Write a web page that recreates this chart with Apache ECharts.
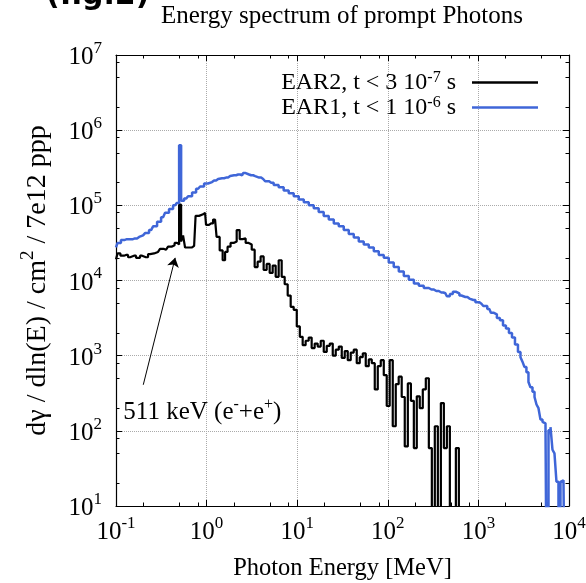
<!DOCTYPE html>
<html>
<head>
<meta charset="UTF-8">
<title>Energy spectrum of prompt Photons</title>
<script src="https://cdn.jsdelivr.net/npm/echarts@6/dist/echarts.min.js"></script>
<style>html,body{margin:0;padding:0;background:#fff;}</style>
</head>
<body>
<div id="chart" style="width:586px; height:583px;"></div>
<script>
// EAR2, t < 3e-7 s (black histogram), energies in MeV
var ear2Energy = [0.100, 0.108, 0.116, 0.129, 0.143, 0.158, 0.175, 0.194, 0.214, 0.238,
    0.263, 0.291, 0.322, 0.357, 0.395, 0.427, 0.460, 0.484, 0.511, 0.536,
    0.564, 0.593, 0.657, 0.728, 0.785, 0.869, 0.962, 1.01, 1.12, 1.24,
    1.34, 1.45, 1.56, 1.64, 1.77, 1.91, 2.07, 2.23, 2.41, 2.60,
    2.80, 3.03, 3.27, 3.52, 3.80, 4.10, 4.43, 4.78, 5.16, 5.57,
    6.01, 6.49, 7.00, 7.56, 8.16, 8.80, 9.50, 10.3, 11.1, 11.9,
    12.9, 13.9, 15.0, 16.2, 17.5, 18.9, 20.4, 22.0, 23.8, 25.6,
    27.7, 29.9, 32.2, 34.8, 37.5, 40.5, 43.7, 47.2, 50.9, 55.0,
    59.3, 64.1, 69.1, 74.6, 80.5, 86.9, 93.8, 101, 109, 118,
    127, 137, 148, 160, 173, 187, 201, 217, 234, 253,
    273, 295, 318, 343, 371, 400, 432, 466, 503, 543,
    586, 632];
// empty bins are given as 1 (below the axis floor of 10)
var ear2Value = [1.91e4, 2.29e4, 2.14e4, 2.19e4, 2.04e4, 2.14e4, 2.0e4, 2.14e4, 2.04e4, 2.24e4,
    2.29e4, 2.40e4, 2.63e4, 2.57e4, 2.82e4, 2.95e4, 3.16e4, 3.02e4, 1.02e5, 3.31e4,
    3.98e4, 2.75e4, 2.75e4, 2.88e4, 7.24e4, 7.59e4, 7.94e4, 5.50e4, 5.75e4, 6.46e4,
    3.80e4, 2.51e4, 1.86e4, 2.40e4, 2.82e4, 3.16e4, 3.31e4, 4.68e4, 3.55e4, 3.63e4,
    3.16e4, 3.02e4, 2.57e4, 1.51e4, 1.78e4, 2.09e4, 1.38e4, 1.66e4, 1.26e4, 1.58e4,
    1.12e4, 1.86e4, 1.12e4, 8.91e3, 6.31e3, 4.47e3, 4.07e3, 2.45e3, 1.78e3, 1.38e3,
    1.58e3, 1.74e3, 1.26e3, 1.45e3, 1.32e3, 1.58e3, 1.12e3, 1.35e3, 1.45e3, 1.0e3,
    1.20e3, 1.32e3, 933, 1.15e3, 871, 1.10e3, 1.20e3, 794, 955, 1.07e3,
    724, 891, 794, 355, 724, 871, 550, 214, 871, 115,
    417, 525, 282, 62, 427, 251, 59, 288, 200, 355,
    501, 59, 1, 115, 1, 234, 59, 115, 1, 1,
    59, 1];

// EAR1, t < 1e-6 s (blue histogram)
var ear1Energy = [0.100, 0.108, 0.119, 0.132, 0.146, 0.162, 0.180, 0.199, 0.220, 0.244,
    0.270, 0.299, 0.331, 0.366, 0.405, 0.449, 0.484, 0.511, 0.536, 0.594,
    0.657, 0.728, 0.806, 0.892, 0.987, 1.09, 1.21, 1.34, 1.48, 1.64,
    1.82, 2.01, 2.23, 2.47, 2.60, 2.80, 3.10, 3.44, 3.80, 4.21,
    4.66, 5.16, 5.86, 6.65, 7.56, 8.59, 9.75, 11.1, 12.6, 14.3,
    16.2, 18.4, 20.9, 23.8, 27.0, 30.6, 34.8, 39.5, 44.9, 50.9,
    57.8, 65.8, 74.6, 84.7, 96.2, 109, 124, 141, 160, 182,
    207, 234, 266, 303, 343, 390, 432, 466, 503, 543,
    586, 649, 718, 796, 880, 975, 1080, 1190, 1320, 1430,
    1540, 1660, 1800, 1940, 2090, 2260, 2440, 2630, 2840, 2990,
    3140, 3300, 3480, 3660, 3850, 4060, 4270, 4490, 4720, 4970,
    5230, 5500, 5790, 6090, 6410, 6740, 7090, 7460, 7850, 8260,
    8690, 9140];
var ear1Value = [2.75e4, 3.16e4, 3.47e4, 3.55e4, 3.55e4, 3.63e4, 3.80e4, 3.98e4, 4.27e4, 4.68e4,
    5.25e4, 6.03e4, 6.92e4, 7.94e4, 8.91e4, 1.0e5, 1.07e5, 6.31e5, 1.15e5, 1.23e5,
    1.32e5, 1.48e5, 1.66e5, 1.78e5, 1.95e5, 2.04e5, 2.14e5, 2.24e5, 2.29e5, 2.34e5,
    2.45e5, 2.51e5, 2.57e5, 2.51e5, 2.69e5, 2.57e5, 2.51e5, 2.45e5, 2.34e5, 2.24e5,
    2.09e5, 2.0e5, 1.86e5, 1.74e5, 1.58e5, 1.45e5, 1.32e5, 1.20e5, 1.10e5, 1.0e5,
    9.12e4, 8.13e4, 7.24e4, 6.46e4, 5.75e4, 5.25e4, 4.68e4, 4.17e4, 3.72e4, 3.31e4,
    3.02e4, 2.75e4, 2.45e4, 2.19e4, 2.0e4, 1.74e4, 1.51e4, 1.32e4, 1.15e4, 1.02e4,
    9.12e3, 8.51e3, 7.94e3, 7.59e3, 7.24e3, 6.92e3, 6.76e3, 6.17e3, 6.61e3, 7.08e3,
    6.76e3, 6.31e3, 6.03e3, 5.75e3, 5.50e3, 5.13e3, 4.90e3, 4.57e3, 4.17e3, 3.72e3,
    3.55e3, 3.16e3, 2.95e3, 2.51e3, 2.29e3, 2.0e3, 1.74e3, 1.41e3, 1.12e3, 955,
    832, 708, 603, 447, 380, 331, 282, 224, 200, 141,
    132, 126, 1, 102, 112, 56, 50, 21, 1, 21,
    22, 1];

var xMinorTicks = [0.2, 0.5, 0.8, 2, 5, 8, 20, 50, 80, 200, 500, 800, 2000, 5000, 8000];
var yMinorTicks = [20, 50, 80, 200, 500, 800, 2e3, 5e3, 8e3, 2e4, 5e4, 8e4,
    2e5, 5e5, 8e5, 2e6, 5e6, 8e6];

// 511 keV annotation: arrow tail -> head, and text anchor (data coords)
var arrow511 = [[0.2, 410], [0.45, 2.0e4]];
var label511 = [0.119, 185];

var serif = "'Liberation Serif', 'Times New Roman', serif";
var blue = '#3f66d8';

function pairs(xs, ys) {
    return xs.map(function (x, i) { return [x, ys[i]]; });
}

function powLabel(v) {
    return '{n|10}{p|' + Math.round(Math.log10(v)) + '}';
}

// base text + superscript, superscript pushed to the top of the line box
function supRich(size, supSize, lh) {
    return {
        n: {fontFamily: serif, fontSize: size, color: '#000', lineHeight: lh, verticalAlign: 'bottom'},
        p: {fontFamily: serif, fontSize: supSize, color: '#000', lineHeight: supSize, verticalAlign: 'top'}
    };
}

var tickRich = supRich(25, 17, 30);
var legendRich = supRich(24, 16, 25);
var noteRich = supRich(25, 16, 28);
var yNameRich = supRich(28, 19, 33);

var legendText = {
    EAR2: '{n|EAR2, t < 3 10}{p|-7}{n| s}',
    EAR1: '{n|EAR1, t < 1 10}{p|-6}{n| s}'
};

function makeAxis(kind, pos, min, max, major, extra) {
    var a = {
        type: 'log', logBase: 10, position: pos, min: min, max: max,
        axisLine: {show: major, onZero: false, lineStyle: {color: '#000', width: 1.2}},
        axisTick: {show: true, inside: true, length: major ? 6 : 3.5,
            lineStyle: {color: '#000', width: 1}},
        axisLabel: {show: false},
        splitLine: {show: false},
        minorTick: {show: false}
    };
    if (!major) {
        a.axisTick.customValues = kind === 'x' ? xMinorTicks : yMinorTicks;
    }
    return Object.assign(a, extra || {});
}

var chart = echarts.init(document.getElementById('chart'), null, {renderer: 'canvas'});

chart.setOption({
    animation: false,
    backgroundColor: '#fff',
    grid: {left: 116, right: 17, top: 55, bottom: 77, containLabel: false, outerBoundsMode: 'none'},
    graphic: [
        {type: 'text', x: 342, y: 4, silent: true,
            style: {text: 'Energy spectrum of prompt Photons', font: "25px 'Liberation Serif'",
                fill: '#000', textAlign: 'center'}},
        {type: 'text', x: 46, y: -19, silent: true,
            style: {text: '(fig.2)', font: "bold 30px 'DejaVu Sans'", fill: '#000'}}
    ],
    legend: {
        orient: 'vertical', right: 43, top: 65, align: 'right',
        itemWidth: 66, itemHeight: 2.5, itemGap: 0, icon: 'rect',
        selectedMode: false,
        data: ['EAR2', 'EAR1'],
        formatter: function (name) { return legendText[name]; },
        textStyle: {color: '#000', fontFamily: serif, fontSize: 24, padding: [0, 11, 0, 0], rich: legendRich}
    },
    xAxis: [
        makeAxis('x', 'bottom', 0.1, 1e4, true, {
            axisLabel: {show: true, margin: 9, formatter: powLabel, rich: tickRich},
            splitLine: {show: true, lineStyle: {color: '#aaa', type: 'dotted', width: 1}},
            name: 'Photon Energy [MeV]', nameLocation: 'middle', nameGap: 50,
            nameTextStyle: {fontFamily: serif, fontSize: 24.5, color: '#000'}
        }),
        makeAxis('x', 'bottom', 0.1, 1e4, false),
        makeAxis('x', 'top', 0.1, 1e4, true),
        makeAxis('x', 'top', 0.1, 1e4, false)
    ],
    yAxis: [
        makeAxis('y', 'left', 10, 1e7, true, {
            axisLabel: {show: true, margin: 14, formatter: powLabel, rich: tickRich},
            splitLine: {show: true, lineStyle: {color: '#aaa', type: 'dotted', width: 1}},
            name: '{n|d\u03b3 / dln(E) / cm}{p|2}{n| / 7e12 ppp}',
            nameLocation: 'middle', nameGap: 64,
            nameTextStyle: {fontFamily: serif, fontSize: 28, color: '#000', rich: yNameRich}
        }),
        makeAxis('y', 'left', 10, 1e7, false),
        makeAxis('y', 'right', 10, 1e7, true),
        makeAxis('y', 'right', 10, 1e7, false)
    ],
    series: [
        {
            name: 'EAR2', type: 'line', step: 'middle', xAxisIndex: 0, yAxisIndex: 0,
            data: pairs(ear2Energy, ear2Value),
            symbol: 'none', showSymbol: false, clip: true,
            lineStyle: {color: '#000', width: 2.2}, itemStyle: {color: '#000'},
            markLine: {
                silent: true, symbol: ['none', 'arrow'], symbolSize: 9,
                label: {show: false},
                lineStyle: {color: '#000', width: 1, type: 'solid'},
                data: [[{coord: arrow511[0]}, {coord: arrow511[1]}]]
            },
            markPoint: {
                silent: true,
                data: [{
                    coord: label511, symbol: 'circle', symbolSize: 1,
                    itemStyle: {color: 'rgba(0,0,0,0)'},
                    label: {show: true, position: 'right', distance: 0,
                        formatter: function () { return '{n|511 keV (e}{p|-}{n|+e}{p|+}{n|)}'; },
                        rich: noteRich}
                }]
            }
        },
        {
            name: 'EAR1', type: 'line', step: 'middle', xAxisIndex: 0, yAxisIndex: 0,
            data: pairs(ear1Energy, ear1Value),
            symbol: 'none', showSymbol: false, clip: true,
            lineStyle: {color: blue, width: 2.5}, itemStyle: {color: blue}
        }
    ]
});
</script>
</body>
</html>
